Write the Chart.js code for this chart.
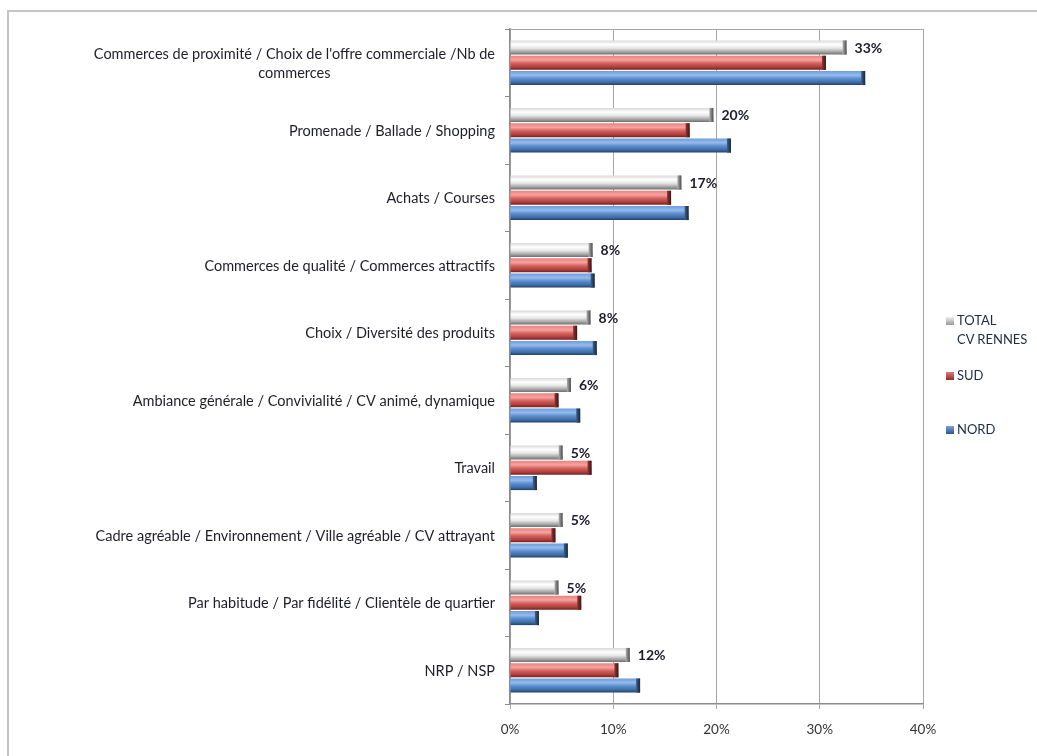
<!DOCTYPE html>
<html>
<head>
<meta charset="utf-8">
<script src="https://cdn.jsdelivr.net/npm/chart.js@4/dist/chart.umd.min.js"></script>
<style>
  html, body { margin: 0; padding: 0; background: #fff; }
  #wrap { position: relative; width: 1037px; height: 756px; overflow: hidden; }
  #frame { position: absolute; left: 7px; top: 10px; width: 1100px; height: 800px;
           border-top: 2px solid #c4c4c4; border-left: 2px solid #c4c4c4; }
  #chart { position: absolute; left: 0; top: 0; }
  .leg { position: absolute; left: 946px; font: 13px Lato, 'Open Sans', sans-serif; color: #1f2a44; line-height: 19px; }
  .leg i { display: inline-block; width: 8px; height: 8px; margin-right: 3px; vertical-align: 0px; }
</style>
</head>
<body>
<div id="wrap">
  <div id="frame"></div>
  <canvas id="chart" width="1037" height="756"></canvas>
  <div class="leg" style="top:311px"><i style="background:linear-gradient(#eee,#999)"></i>TOTAL<br><span style="padding-left:11px">CV RENNES</span></div>
  <div class="leg" style="top:366px"><i style="background:linear-gradient(#e07a77,#8f2f2c)"></i>SUD</div>
  <div class="leg" style="top:420px"><i style="background:linear-gradient(#79a3db,#2f578a)"></i>NORD</div>
</div>
<script>
// ====== données ======
const categories = [
  ["Commerces de proximité / Choix de l'offre commerciale /Nb de", "commerces"],
  "Promenade / Ballade / Shopping",
  "Achats / Courses",
  "Commerces de qualité / Commerces attractifs",
  "Choix / Diversité des produits",
  "Ambiance générale / Convivialité / CV animé, dynamique",
  "Travail",
  "Cadre agréable / Environnement / Ville agréable / CV attrayant",
  "Par habitude / Par fidélité / Clientèle de quartier",
  "NRP / NSP"
]
const totalValues = [32.6, 19.7, 16.6, 8.0, 7.8, 5.9, 5.1, 5.1, 4.7, 11.6]
const sudValues   = [30.6, 17.4, 15.6, 7.9, 6.5, 4.7, 7.9, 4.4, 6.9, 10.5]
const nordValues  = [34.4, 21.4, 17.3, 8.2, 8.4, 6.8, 2.6, 5.6, 2.8, 12.6]
const xTicks = [0, 10, 20, 30, 40]

const FONT = "Lato, 'Open Sans', sans-serif"

// dégradés "3D" façon Excel
const styles = [
  { stops: ['#d8d8d8', '#ffffff', '#e6e6e6', '#a8a8a8', '#6f6f6f'], cap: ['#b0b0b0', '#4a4a4a'] },
  { stops: ['#e9817e', '#f5a3a0', '#d45f5b', '#b0403d', '#6e2321'], cap: ['#9a3532', '#3e1312'] },
  { stops: ['#6f9cd8', '#94bbee', '#5a8bcb', '#3f6ea8', '#233f66'], cap: ['#3a6296', '#142640'] }
]

const bars3d = {
  id: 'bars3d',
  beforeDraw(chart) {
    const { ctx, chartArea: a } = chart
    ctx.save()
    ctx.strokeStyle = '#a6a6a6'
    ctx.lineWidth = 1
    ctx.beginPath()
    ctx.moveTo(a.left, a.top + 0.5)
    ctx.lineTo(a.right, a.top + 0.5)
    ctx.stroke()
    ctx.restore()
  },
  beforeDatasetsDraw(chart) {
    const ctx = chart.ctx
    chart.data.datasets.forEach((ds, di) => {
      const meta = chart.getDatasetMeta(di)
      meta.data.forEach(el => {
        const { y, height } = el.getProps(['y', 'height'], true)
        const g = ctx.createLinearGradient(0, y - height / 2, 0, y + height / 2)
        const s = styles[di].stops
        g.addColorStop(0, s[0]); g.addColorStop(0.3, s[1]); g.addColorStop(0.55, s[2])
        g.addColorStop(0.8, s[3]); g.addColorStop(1, s[4])
        el.options = Object.assign({}, el.options, { backgroundColor: g })
      })
    })
  },
  afterDatasetsDraw(chart) {
    const ctx = chart.ctx
    ctx.save()
    chart.data.datasets.forEach((ds, di) => {
      const meta = chart.getDatasetMeta(di)
      meta.data.forEach((el, i) => {
        const { x, y, height } = el.getProps(['x', 'y', 'height'], true)
        const g = ctx.createLinearGradient(x - 4, 0, x, 0)
        g.addColorStop(0, styles[di].cap[0]); g.addColorStop(1, styles[di].cap[1])
        ctx.fillStyle = g
        ctx.fillRect(x - 4, y - height / 2, 4, height)
        if (di === 0) {
          ctx.fillStyle = '#1c1c2c'
          ctx.font = 'bold 14px ' + FONT
          ctx.textAlign = 'left'
          ctx.textBaseline = 'middle'
          ctx.fillText(Math.round(ds.data[i]) + '%', x + 8, y + 1)
        }
      })
    })
    ctx.restore()
  },
  afterDraw(chart) {
    // libellés des catégories, centrés ligne par ligne
    const { ctx } = chart
    const ys = chart.scales.y
    ctx.save()
    ctx.font = '14.5px ' + FONT
    ctx.fillStyle = '#1e1e28'
    ctx.textBaseline = 'middle'
    ctx.textAlign = 'center'
    const right = ys.right - 15
    categories.forEach((lab, i) => {
      const lines = Array.isArray(lab) ? lab : [lab]
      const w = Math.max(...lines.map(l => ctx.measureText(l).width))
      const cy = ys.getPixelForTick(i) + 1
      const lh = 19
      lines.forEach((l, k) => {
        ctx.fillText(l, right - w / 2, cy + (k - (lines.length - 1) / 2) * lh)
      })
    })
    ctx.restore()
  }
}

new Chart(document.getElementById('chart'), {
  type: 'bar',
  data: {
    labels: categories,
    datasets: [
      { label: 'TOTAL CV RENNES', data: totalValues, backgroundColor: '#e0e0e0' },
      { label: 'SUD', data: sudValues, backgroundColor: '#c0504d' },
      { label: 'NORD', data: nordValues, backgroundColor: '#4f81bd' }
    ]
  },
  options: {
    indexAxis: 'y',
    responsive: false,
    animation: false,
    events: [],
    layout: { padding: { left: 10, right: 114, top: 29, bottom: 12 } },
    categoryPercentage: 0.68,
    barPercentage: 0.92,
    plugins: { legend: { display: false }, tooltip: { enabled: false } },
    scales: {
      x: {
        min: 0, max: 40,
        afterBuildTicks: s => { s.ticks = xTicks.map(v => ({ value: v })) },
        afterFit: s => { s.height = 40 },
        grid: { color: '#a6a6a6', lineWidth: 1, tickLength: 5, drawTicks: true },
        border: { color: '#8c8c8c', width: 1.5 },
        ticks: { color: '#333', font: { family: FONT, size: 13.5 }, padding: 13, callback: v => v + '%' }
      },
      y: {
        afterFit: s => { s.width = 500 },
        grid: { drawOnChartArea: false, color: '#8c8c8c', tickLength: 5, offset: true },
        border: { color: '#8c8c8c', width: 1.5 },
        ticks: { display: false }
      }
    }
  },
  plugins: [bars3d]
})
</script>
</body>
</html>
